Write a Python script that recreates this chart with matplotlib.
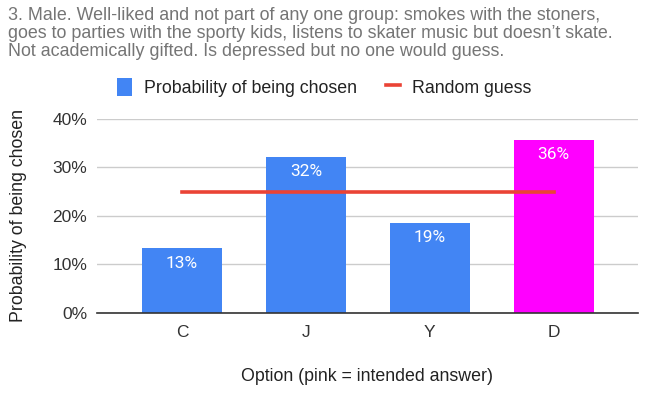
import matplotlib
matplotlib.use("Agg")
import matplotlib.pyplot as plt
from matplotlib.ticker import PercentFormatter

plt.rcParams["font.family"] = ["Liberation Sans", "DejaVu Sans"]

# data
options = ["C", "J", "Y", "D"]
chosen = [0.134, 0.322, 0.186, 0.357]
bar_labels = ["13%", "32%", "19%", "36%"]
random_guess = [0.25, 0.25, 0.25, 0.25]
intended = "D"

title = ("3. Male. Well-liked and not part of any one group: smokes with the stoners,\n"
         "goes to parties with the sporty kids, listens to skater music but doesn\u2019t skate.\n"
         "Not academically gifted. Is depressed but no one would guess.")

BLUE = "#4285f4"
PINK = "#ff00ff"
RED = "#ea4335"

fig = plt.figure(figsize=(6.49, 3.96), dpi=100)
ax = fig.add_axes([0.1495, 0.2096, 0.8335, 0.49])

x = list(range(len(options)))
colors = [PINK if o == intended else BLUE for o in options]
bars = ax.bar(x, chosen, width=0.645, color=colors, zorder=2,
              label="Probability of being chosen")
ax.plot(x, random_guess, color=RED, linewidth=2.6, zorder=3,
        label="Random guess")

for b, lab in zip(bars, bar_labels):
    ax.text(b.get_x() + b.get_width() / 2, b.get_height() - 0.031, lab,
            ha="center", va="center", color="white", fontsize=12.5,
            family=["Roboto", "DejaVu Sans"], zorder=4)

ax.set_xlim(-0.685, 3.68)
ax.set_ylim(0, 0.4)
ax.set_yticks([0, 0.1, 0.2, 0.3, 0.4])
ax.yaxis.set_major_formatter(PercentFormatter(1.0, decimals=0))
ax.set_xticks(x)
ax.set_xticklabels(options)
ax.tick_params(axis="both", length=0, labelsize=12.5, labelcolor="#333333")
ax.tick_params(axis="x", pad=9)
ax.tick_params(axis="y", pad=7)
ax.grid(axis="y", color="#cccccc", linewidth=1, zorder=0)
for s in ["top", "right", "left"]:
    ax.spines[s].set_visible(False)
ax.spines["bottom"].set_color("#333333")
ax.spines["bottom"].set_linewidth(1.2)
ax.spines["bottom"].set_zorder(5)

ax.set_ylabel("Probability of being chosen", fontsize=12.8, color="#222222", labelpad=18)
ax.set_xlabel("Option (pink = intended answer)", fontsize=12.8, color="#222222", labelpad=20)

fig.text(0.012, 0.982, title, ha="left", va="top", fontsize=12.9,
         color="#757575", linespacing=1.08)

handles, labels = ax.get_legend_handles_labels()
leg = fig.legend(handles[::-1], labels[::-1], loc="center", bbox_to_anchor=(0.5, 0.78),
                 ncol=2, frameon=False, fontsize=12.8, handlelength=0.8,
                 handleheight=1.2, columnspacing=1.6, handletextpad=0.7)
for t in leg.get_texts():
    t.set_color("#222222")

fig.savefig("out.png", dpi=100)
